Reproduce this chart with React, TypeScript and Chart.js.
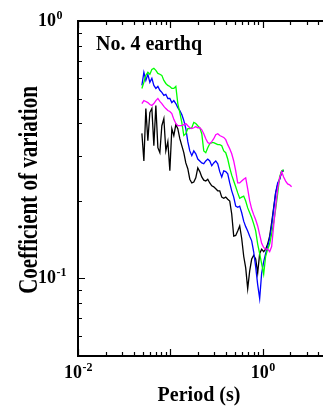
import React, { useEffect, useRef } from "react";
import { Chart, registerables } from "chart.js";

Chart.register(...registerables);

// Periods (s)
const periods = [
  0.0492, 0.0517, 0.0543, 0.0571, 0.06, 0.0631, 0.0663, 0.0697, 0.0733, 0.077,
  0.0809, 0.0851, 0.0894, 0.094, 0.0988, 0.1038, 0.1091, 0.1147, 0.1205, 0.1267,
  0.1331, 0.1399, 0.1471, 0.1546, 0.1625, 0.1708, 0.1795, 0.1887, 0.1983, 0.2084,
  0.219, 0.2302, 0.242, 0.2543, 0.2673, 0.281, 0.2953, 0.3104, 0.3262, 0.3429,
  0.3604, 0.3788, 0.3981, 0.4184, 0.4398, 0.4622, 0.4858, 0.5106, 0.5367, 0.5641,
  0.5929, 0.6232, 0.655, 0.6884, 0.7236, 0.7605, 0.7993, 0.8401, 0.883, 0.9281,
  0.9754, 1.0252, 1.0775, 1.1325, 1.1903, 1.2511, 1.3149, 1.382, 1.4526, 1.5267,
  1.6047, 1.6866, 1.7727, 1.8632, 1.9583, 2.0583,
];

const cvBlack = [
  0.366, 0.286, 0.457, 0.343, 0.441, 0.457, 0.328, 0.47, 0.322, 0.308,
  0.392, 0.418, 0.313, 0.34, 0.262, 0.382, 0.359, 0.396, 0.382, 0.349,
  0.328, 0.308, 0.281, 0.267, 0.243, 0.235, 0.237, 0.246, 0.269, 0.26,
  0.248, 0.241, 0.239, 0.243, 0.235, 0.229, 0.227, 0.223, 0.219, 0.219,
  0.207, 0.205, 0.207, 0.203, 0.2, 0.178, 0.146, 0.147, 0.153, 0.16,
  0.143, 0.122, 0.11, 0.0913, 0.107, 0.119, 0.123, 0.119, 0.105, 0.125,
  0.13, 0.127, 0.13, 0.136, 0.146, 0.165, 0.188, 0.215, 0.231, 0.243,
  0.26, 0.262, null, null, null, null,
];

const cvBlue = [
  0.562, 0.632, 0.588, 0.621, 0.578, 0.599, 0.562, 0.547, 0.557, 0.538,
  0.528, 0.514, 0.519, 0.5, 0.5, 0.482, 0.491, 0.478, 0.461, 0.449,
  0.433, 0.411, 0.382, 0.34, 0.313, 0.3, 0.313, 0.305, 0.291, 0.286,
  0.281, 0.279, 0.286, 0.291, 0.286, 0.274, 0.281, 0.286, 0.279, 0.26,
  0.248, 0.262, 0.26, 0.255, 0.235, 0.219, 0.207, 0.191, 0.189, 0.191,
  0.18, 0.167, 0.159, 0.153, 0.146, 0.14, 0.127, 0.111, 0.0947, 0.0835,
  0.105, 0.116, 0.125, 0.133, 0.143, 0.16, 0.186, 0.215, 0.235, 0.243,
  0.26, 0.264, null, null, null, null,
];

const cvGreen = [
  0.547, 0.578, 0.615, 0.632, 0.621, 0.649, 0.655, 0.643, 0.626, 0.621,
  0.615, 0.588, 0.572, 0.562, 0.557, 0.547, 0.547, 0.557, 0.478, 0.441,
  0.404, 0.359, 0.365, 0.382, 0.382, 0.385, 0.404, 0.4, 0.392, 0.385,
  0.365, 0.313, 0.308, 0.322, 0.334, 0.337, 0.337, 0.334, 0.331, 0.331,
  0.328, 0.313, 0.308, 0.291, 0.269, 0.252, 0.239, 0.227, 0.215, 0.205,
  0.207, 0.209, 0.2, 0.188, 0.18, 0.172, 0.163, 0.153, 0.136, 0.125,
  0.114, 0.104, 0.122, 0.13, 0.136, 0.149, 0.165, 0.186, 0.213, 0.248,
  0.262, 0.264, null, null, null, null,
];

const cvMagenta = [
  0.478, 0.491, 0.487, 0.482, 0.474, 0.47, 0.478, 0.491, 0.5, 0.487,
  0.478, 0.466, 0.457, 0.449, 0.445, 0.437, 0.415, 0.4, 0.392, 0.392,
  0.392, 0.396, 0.4, 0.392, 0.385, 0.382, 0.385, 0.389, 0.385, 0.385,
  0.378, 0.365, 0.349, 0.337, 0.334, 0.34, 0.349, 0.362, 0.365, 0.359,
  0.356, 0.353, 0.346, 0.331, 0.319, 0.305, 0.286, 0.262, 0.235, 0.235,
  0.239, 0.243, 0.246, 0.223, 0.2, 0.186, 0.177, 0.169, 0.16, 0.148,
  0.137, 0.132, 0.13, 0.13, 0.127, 0.133, 0.16, 0.191, 0.223, 0.246,
  0.26, 0.248, 0.239, 0.233, 0.231, 0.227,
];

const titleText = "No. 4 earthq";
const xTitle = "Period (s)";
const yTitle = "Coefficient of variation";
const xLabelExps = [-2, 0];
const yLabelExps = [0, -1];

const FONT = '"Liberation Serif", "Times New Roman", serif';

function toPoints(vals: (number | null)[]) {
  const pts: { x: number; y: number }[] = [];
  vals.forEach((v, i) => {
    if (v !== null) pts.push({ x: periods[i], y: v });
  });
  return pts;
}

function drawPow(ctx: CanvasRenderingContext2D, exp: number, x: number, baseline: number, mode: "center" | "baseRight") {
  const base = "10";
  const sup = String(exp);
  ctx.font = `bold 18px ${FONT}`;
  const wb = ctx.measureText(base).width;
  ctx.font = `bold 12px ${FONT}`;
  const ws = ctx.measureText(sup).width;
  let sx: number;
  if (mode === "center") sx = x - (wb + ws) / 2;
  else sx = x - wb;
  ctx.textAlign = "left";
  ctx.textBaseline = "alphabetic";
  ctx.font = `bold 18px ${FONT}`;
  ctx.fillText(base, sx, baseline);
  ctx.font = `bold 12px ${FONT}`;
  ctx.fillText(sup, sx + wb + 0.5, baseline - 7);
}

const framePlugin = {
  id: "frame",
  afterDraw(chart: any) {
    const { ctx, chartArea: a, scales } = chart;
    const xs = scales.x;
    const ys = scales.y;
    ctx.save();
    ctx.strokeStyle = "#000";
    ctx.fillStyle = "#000";
    ctx.lineWidth = 2;
    ctx.strokeRect(a.left, a.top, a.right - a.left, a.bottom - a.top);

    ctx.lineWidth = 1.2;
    ctx.beginPath();
    for (let d = -2; d <= 0; d++) {
      for (let m = 1; m <= 9; m++) {
        const v = m * Math.pow(10, d);
        if (v < ys.min * 0.999 || v > ys.max * 1.001) continue;
        const y = Math.round(ys.getPixelForValue(v)) + 0.5;
        const len = m === 1 ? 7 : 4;
        ctx.moveTo(a.left, y);
        ctx.lineTo(a.left + len, y);
        ctx.moveTo(a.right, y);
        ctx.lineTo(a.right - len, y);
      }
    }
    for (let d = -2; d <= 1; d++) {
      for (let m = 1; m <= 9; m++) {
        const v = m * Math.pow(10, d);
        if (v < xs.min * 0.999 || v > xs.max * 1.001) continue;
        const x = Math.round(xs.getPixelForValue(v)) + 0.5;
        const len = m === 1 ? 7 : 4;
        ctx.moveTo(x, a.bottom);
        ctx.lineTo(x, a.bottom - len);
        ctx.moveTo(x, a.top);
        ctx.lineTo(x, a.top + len);
      }
    }
    ctx.stroke();

    // tick labels
    yLabelExps.forEach((e) => {
      const y = ys.getPixelForValue(Math.pow(10, e));
      drawPow(ctx, e, 56, y + 5, "baseRight");
    });
    xLabelExps.forEach((e) => {
      const x = xs.getPixelForValue(Math.pow(10, e));
      drawPow(ctx, e, x, 378, "center");
    });

    // titles
    ctx.font = `bold 20px ${FONT}`;
    ctx.textAlign = "left";
    ctx.textBaseline = "alphabetic";
    ctx.fillText(titleText, 96, 50);

    ctx.textAlign = "center";
    ctx.fillText(xTitle, 199, 401);

    ctx.save();
    ctx.translate(37, 190);
    ctx.rotate(-Math.PI / 2);
    ctx.scale(1, 1.3);
    ctx.font = `bold 21px ${FONT}`;
    ctx.textAlign = "center";
    ctx.fillText(yTitle, 0, 0);
    ctx.restore();

    ctx.restore();
  },
};

export default function App() {
  const ref = useRef<HTMLCanvasElement>(null);
  useEffect(() => {
    if (!ref.current) return;
    const mk = (vals: (number | null)[], color: string) => ({
      data: toPoints(vals),
      borderColor: color,
      backgroundColor: color,
      borderWidth: 1.3,
      pointRadius: 0,
      tension: 0,
      fill: false,
    });
    const chart = new Chart(ref.current, {
      type: "line",
      data: {
        datasets: [
          mk(cvMagenta, "#ff00ff"),
          mk(cvGreen, "#00ff00"),
          mk(cvBlue, "#0000ff"),
          mk(cvBlack, "#000000"),
        ],
      },
      options: {
        responsive: false,
        maintainAspectRatio: false,
        animation: false,
        devicePixelRatio: 1,
        layout: { padding: { left: 78, top: 21, right: 5, bottom: 53 } },
        plugins: { legend: { display: false }, tooltip: { enabled: false } },
        scales: {
          x: { type: "logarithmic", min: 0.01, max: 10, display: false },
          y: { type: "logarithmic", min: 0.05, max: 1, display: false },
        },
      },
      plugins: [framePlugin],
    });
    return () => chart.destroy();
  }, []);
  return (
    <div
      style={{
        position: "fixed",
        left: 0,
        top: 0,
        width: 323,
        height: 409,
        overflow: "hidden",
        background: "#fff",
      }}
    >
      <canvas ref={ref} width={360} height={409} style={{ width: 360, height: 409, display: "block" }} />
    </div>
  );
}
